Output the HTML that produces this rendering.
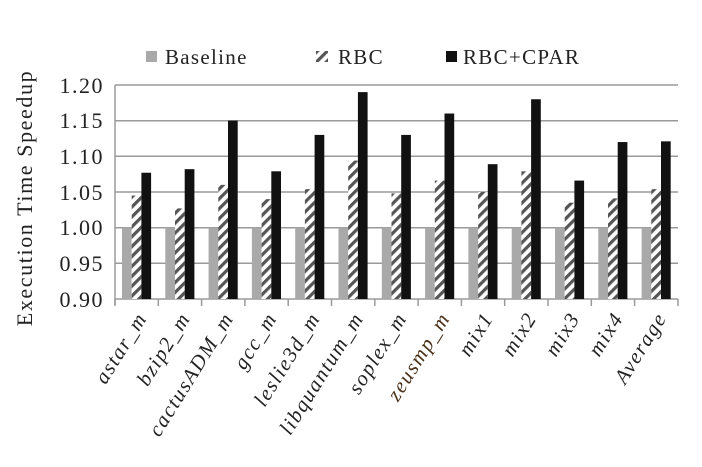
<!DOCTYPE html>
<html><head><meta charset="utf-8"><style>body{margin:0;background:#fff}</style></head><body>
<svg width="702" height="462" xmlns="http://www.w3.org/2000/svg" font-family="Liberation Serif, serif">
<defs>
<pattern id="h" patternUnits="userSpaceOnUse" width="7" height="7" patternTransform="rotate(45)">
<rect width="7" height="7" fill="#fff"/><rect width="3.2" height="7" fill="#555"/>
</pattern>
</defs>
<g stroke="#9a9a9a" stroke-width="1.5">
<line x1="115" y1="85" x2="678" y2="85"/>
<line x1="115" y1="120.7" x2="678" y2="120.7"/>
<line x1="115" y1="156.3" x2="678" y2="156.3"/>
<line x1="115" y1="192" x2="678" y2="192"/>
<line x1="115" y1="227.7" x2="678" y2="227.7"/>
<line x1="115" y1="263.3" x2="678" y2="263.3"/>
<line x1="115" y1="299" x2="678" y2="299"/>
<line x1="115" y1="85" x2="115" y2="305"/>
</g>
<g font-size="22" fill="#222" text-anchor="end" letter-spacing="1.5">
<text x="104" y="93">1.20</text><text x="104" y="128">1.15</text><text x="104" y="164">1.10</text>
<text x="104" y="200">1.05</text><text x="104" y="235">1.00</text><text x="104" y="271">0.95</text><text x="104" y="307">0.90</text>
</g>
<text transform="translate(32,198) rotate(-90)" font-size="22" text-anchor="middle" fill="#222" letter-spacing="1.6">Execution Time Speedup</text>
<rect x="146" y="51" width="11" height="11" fill="#a9a9a9"/>
<text x="165" y="64" font-size="21" fill="#222" letter-spacing="1.3">Baseline</text>
<rect x="316" y="51" width="12" height="11" fill="url(#h)"/>
<text x="338" y="64" font-size="21" fill="#222" letter-spacing="1.3">RBC</text>
<rect x="446" y="51" width="11" height="11" fill="#111"/>
<text x="463" y="64" font-size="21" fill="#222" letter-spacing="1.3">RBC+CPAR</text>
<g id="bars"></g>
<g id="ticks" stroke="#9a9a9a" stroke-width="1.5"></g>
<g id="labels" font-size="21" font-style="italic" fill="#222" text-anchor="end" letter-spacing="1.5"></g>
<script>
var d=[["astar_m",1.045,1.077],["bzip2_m",1.027,1.082],["cactusADM_m",1.06,1.15],["gcc_m",1.04,1.079],["leslie3d_m",1.054,1.13],["libquantum_m",1.094,1.19],["soplex_m",1.048,1.13],["zeusmp_m",1.066,1.16],["mix1",1.05,1.089],["mix2",1.079,1.18],["mix3",1.035,1.066],["mix4",1.041,1.12],["Average",1.054,1.121]];
var ns="http://www.w3.org/2000/svg",w=43.3,b=document.getElementById("bars"),t=document.getElementById("ticks"),l=document.getElementById("labels");
function y(v){return 299-(v-0.9)/0.05*35.67}
function r(x,v,f){var e=document.createElementNS(ns,"rect");e.setAttribute("x",x);e.setAttribute("y",y(v));e.setAttribute("width",9.7);e.setAttribute("height",299-y(v));e.setAttribute("fill",f);b.appendChild(e)}
d.forEach(function(o,i){var x0=115+i*w;r(x0+7,1,"#a9a9a9");r(x0+16.7,o[1],"url(#h)");r(x0+26.4,o[2],"#111");
var ln=document.createElementNS(ns,"line");ln.setAttribute("x1",x0);ln.setAttribute("x2",x0);ln.setAttribute("y1",299);ln.setAttribute("y2",306);t.appendChild(ln);
var tx=document.createElementNS(ns,"text");var cx=x0+w/2+11;tx.setAttribute("transform","translate("+cx+",318) rotate(-58)");tx.textContent=o[0];if(o[0]=="zeusmp_m")tx.setAttribute("fill","#4a3018");l.appendChild(tx)});
var ln=document.createElementNS(ns,"line");ln.setAttribute("x1",678);ln.setAttribute("x2",678);ln.setAttribute("y1",299);ln.setAttribute("y2",306);t.appendChild(ln);
</script>
</svg>
</body></html>
